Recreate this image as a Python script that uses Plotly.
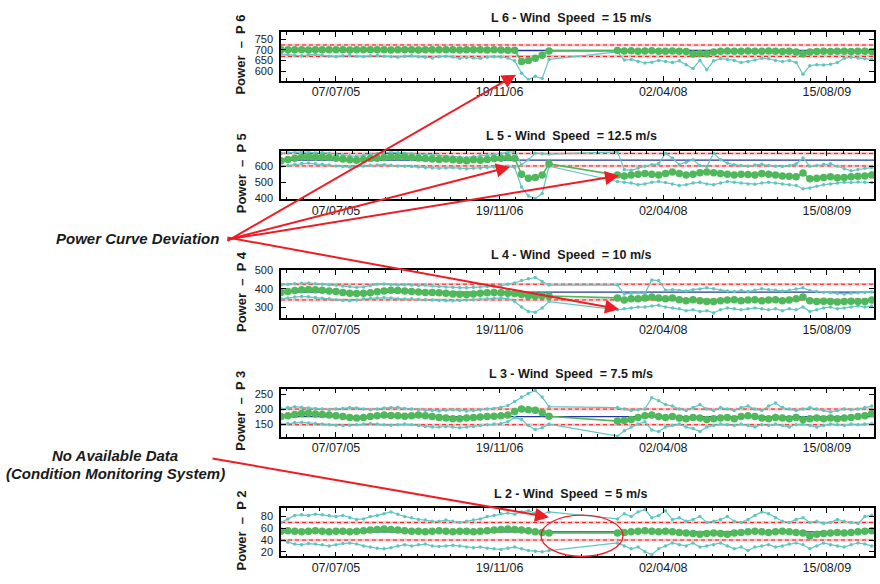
import plotly.graph_objects as go
import pandas as pd

# ---------------- data ----------------
dates_a = pd.date_range("2005-01-20", periods=40, freq="21D")
dates_b = pd.date_range("2007-11-14", periods=38, freq="21D")
dates = list(dates_a) + list(dates_b)

titles = ["L 6 - Wind\u00a0 Speed\u00a0 = 15 m/s", "L 5 - Wind\u00a0 Speed\u00a0 = 12.5 m/s",
          "L 4 - Wind\u00a0 Speed\u00a0 = 10 m/s", "L 3 - Wind\u00a0 Speed\u00a0 = 7.5 m/s",
          "L 2 - Wind\u00a0 Speed\u00a0 = 5 m/s"]
ylabels = ["P 6", "P 5", "P 4", "P 3", "P 2"]
x_ticks_major_days = 500
x_ticks_minor_days = 50

# reference (blue) and thresholds (red dashed)
ref_p6, thr_p6 = 697, [669, 723]
ref_p5, thr_p5 = 638, [602, 680]
ref_p4, thr_p4 = 382, [339, 425]
ref_p3, thr_p3 = 175, [148, 200]
ref_p2, thr_p2 = 54, [40, 70]

# P6
p6_mean = [700, 700, 701, 700, 699, 700, 700, 701, 700, 700, 699, 700, 700, 700, 701, 700, 699, 700, 700, 700,
           699, 700, 700, 701, 700, 700, 699, 700, 700, 700, 699, 700, 699, 698, 698, 645, 650, 660, 675, 695] + \
          [697, 695, 696, 694, 695, 696, 694, 693, 695, 694, 692, 680, 683, 682, 690, 694, 695, 693, 694,
           695, 694, 693, 695, 694, 692, 693, 690, 682, 690, 692, 693, 692, 694, 693, 692, 693, 694, 692]
p6_low = [680, 678, 675, 672, 676, 678, 674, 670, 668, 672, 675, 670, 668, 672, 674, 670, 668, 665, 670, 672,
          668, 665, 662, 668, 670, 666, 660, 664, 662, 660, 665, 668, 666, 662, 648, 590, 560, 575, 565, 655] + \
         [690, 652, 655, 645, 638, 642, 650, 645, 640, 648, 630, 612, 650, 606, 648, 658, 655, 650, 640,
          645, 652, 660, 658, 650, 645, 650, 640, 585, 625, 630, 628, 632, 640, 660, 665, 662, 658, 655]

# P5
p5_mean = [635, 642, 650, 658, 660, 656, 658, 655, 650, 645, 640, 638, 642, 648, 650, 655, 660, 658, 660, 655,
           652, 648, 645, 642, 645, 640, 638, 635, 640, 638, 642, 648, 650, 655, 650, 550, 525, 530, 545, 615] + \
          [545, 540, 545, 550, 555, 550, 545, 555, 565, 555, 545, 550, 560, 565, 560, 555, 550, 545, 550,
           548, 545, 555, 550, 545, 540, 538, 535, 558, 522, 525, 530, 535, 528, 530, 535, 538, 540, 545]
p5_up = [680, 684, 688, 690, 688, 684, 686, 682, 676, 670, 665, 662, 668, 675, 680, 684, 688, 685, 682, 678,
         675, 670, 668, 665, 662, 660, 658, 655, 660, 665, 668, 672, 678, 688, 692, 610, 640, 682, 678, 676] + \
        [690, 580, 575, 590, 600, 610, 615, 682, 650, 610, 625, 640, 605, 598, 682, 640, 620, 610, 605,
         600, 608, 612, 605, 600, 598, 604, 615, 652, 600, 605, 612, 615, 600, 585, 572, 580, 588, 592]
p5_low = [600, 605, 612, 618, 620, 615, 612, 608, 602, 598, 595, 598, 602, 606, 608, 610, 606, 602, 600, 598,
          595, 592, 590, 588, 590, 592, 588, 585, 588, 590, 592, 595, 598, 600, 592, 470, 415, 398, 430, 600] + \
         [505, 500, 495, 485, 490, 500, 505, 498, 490, 480, 485, 495, 500, 490, 485, 495, 505, 500, 495,
          490, 488, 495, 500, 495, 490, 485, 480, 460, 465, 475, 485, 490, 495, 500, 498, 502, 500, 498]

# P4
p4_mean = [380, 385, 390, 395, 396, 394, 392, 388, 385, 380, 376, 374, 375, 378, 383, 388, 392, 390, 388, 385,
           382, 380, 380, 378, 376, 372, 370, 368, 372, 375, 378, 380, 378, 376, 374, 368, 362, 360, 362, 360] + \
          [350, 338, 345, 345, 350, 355, 350, 345, 350, 340, 335, 340, 335, 330, 330, 335, 338, 340, 335,
           338, 340, 335, 338, 340, 335, 338, 345, 355, 335, 330, 332, 330, 328, 330, 332, 330, 330, 338]
p4_up = [420, 425, 428, 430, 432, 428, 425, 422, 420, 415, 412, 408, 410, 418, 424, 426, 422, 420, 422, 420,
         418, 420, 416, 412, 410, 408, 406, 405, 408, 410, 412, 414, 416, 425, 432, 445, 455, 462, 440, 420] + \
        [420, 372, 375, 378, 375, 448, 445, 392, 395, 390, 388, 395, 398, 405, 400, 392, 388, 385, 390,
         385, 392, 400, 395, 392, 388, 392, 398, 405, 390, 385, 380, 378, 375, 372, 375, 378, 380, 382]
p4_low = [345, 350, 355, 358, 356, 352, 348, 345, 340, 336, 334, 338, 345, 348, 350, 352, 350, 346, 344, 345,
          342, 340, 338, 336, 335, 334, 336, 338, 340, 344, 346, 348, 350, 345, 330, 300, 275, 272, 295, 330] + \
         [285, 290, 295, 300, 300, 305, 310, 300, 295, 290, 280, 285, 275, 280, 268, 285, 295, 290, 285,
          290, 295, 290, 285, 290, 280, 290, 285, 300, 275, 285, 295, 300, 290, 295, 300, 305, 300, 305]

# P3
p3_mean = [175, 178, 182, 185, 186, 184, 182, 180, 178, 175, 172, 170, 172, 175, 178, 180, 179, 178, 176, 178,
           180, 178, 175, 172, 170, 168, 168, 170, 172, 174, 175, 176, 178, 180, 192, 200, 198, 196, 188, 176] + \
          [160, 162, 165, 172, 178, 180, 175, 172, 175, 170, 168, 172, 170, 165, 168, 170, 172, 168, 175,
           178, 175, 170, 168, 172, 170, 168, 172, 165, 168, 170, 168, 170, 168, 170, 172, 175, 178, 185]
p3_up = [200, 205, 208, 206, 204, 202, 200, 198, 200, 202, 205, 204, 200, 198, 200, 204, 205, 206, 202, 200,
         198, 196, 195, 194, 196, 198, 196, 194, 195, 198, 200, 202, 206, 212, 225, 240, 252, 262, 240, 208] + \
        [205, 200, 195, 198, 200, 238, 228, 215, 210, 200, 195, 205, 215, 200, 195, 205, 200, 195, 205,
         210, 200, 195, 210, 220, 205, 200, 195, 200, 205, 200, 195, 190, 195, 200, 198, 200, 205, 210]
p3_low = [150, 152, 155, 156, 154, 152, 150, 148, 146, 145, 146, 148, 150, 152, 150, 148, 146, 148, 150, 148,
          145, 142, 140, 140, 142, 140, 138, 140, 142, 145, 148, 150, 152, 158, 172, 165, 145, 132, 138, 150] + \
         [110, 128, 140, 150, 158, 130, 125, 140, 145, 150, 140, 135, 125, 140, 145, 150, 148, 145, 150,
          145, 140, 148, 145, 150, 145, 140, 148, 150, 145, 140, 145, 150, 148, 145, 150, 148, 150, 152]

# P2
p2_mean = [55, 56, 55, 54, 55, 56, 55, 54, 55, 55, 54, 55, 56, 57, 58, 59, 58, 57, 56, 55,
           55, 54, 55, 56, 55, 54, 55, 55, 54, 55, 56, 57, 58, 59, 58, 57, 56, 54, 53, 52] + \
          [52, 53, 54, 55, 56, 55, 54, 55, 54, 53, 52, 51, 50, 51, 52, 51, 50, 52, 53,
           54, 55, 54, 53, 54, 55, 54, 53, 52, 47, 50, 51, 52, 53, 52, 53, 54, 55, 56]
p2_up = [70, 76, 82, 83, 82, 84, 83, 82, 80, 82, 78, 75, 76, 80, 82, 85, 88, 84, 80, 78,
         75, 74, 72, 72, 74, 72, 70, 72, 74, 76, 80, 82, 85, 86, 84, 88, 90, 86, 84, 88] + \
        [76, 85, 80, 88, 92, 78, 82, 90, 75, 78, 72, 75, 80, 70, 72, 75, 80, 72, 70,
         75, 82, 88, 85, 78, 72, 70, 75, 78, 70, 72, 68, 70, 75, 72, 70, 68, 80, 82]
p2_low = [40, 36, 33, 32, 34, 33, 32, 30, 32, 34, 35, 33, 30, 28, 26, 25, 27, 30, 32, 30,
          32, 33, 30, 29, 30, 31, 30, 28, 27, 28, 26, 25, 24, 26, 28, 25, 22, 21, 20, 22] + \
         [35, 30, 25, 28, 20, 15, 25, 30, 35, 32, 30, 35, 28, 30, 32, 35, 30, 25, 28,
          22, 28, 30, 32, 28, 30, 33, 35, 32, 25, 30, 35, 32, 30, 28, 32, 35, 33, 30]

y_ranges = [[555, 782], [394, 694], [240, 503], [108, 268], [12, 94]]
y_dticks = [50, 100, 100, 50, 20]

panels = [
    dict(mean=p6_mean, up=None, low=p6_low, ref=ref_p6, thr=thr_p6),
    dict(mean=p5_mean, up=p5_up, low=p5_low, ref=ref_p5, thr=thr_p5),
    dict(mean=p4_mean, up=p4_up, low=p4_low, ref=ref_p4, thr=thr_p4),
    dict(mean=p3_mean, up=p3_up, low=p3_low, ref=ref_p3, thr=thr_p3),
    dict(mean=p2_mean, up=p2_up, low=p2_low, ref=ref_p2, thr=thr_p2),
]

# ---------------- layout geometry (pixels) ----------------
W, H = 880, 584
X0, X1 = 281, 874
TOPS = [27, 148, 269, 390, 512]
PH = 49
FONT = "Liberation Sans, Arial, Helvetica, sans-serif"

GREEN = "#4fb85a"
CYAN = "#62c6c0"
BLUE = "#23389a"
RED = "#ee1c24"


def py(p):
    return 1 - p / H


fig = go.Figure()
layout = {}
shapes = []
annotations = []
DAY = 86400000

for i, pn in enumerate(panels):
    n = i + 1
    sfx = "" if n == 1 else str(n)
    xa, ya = "x" + sfx, "y" + sfx
    top = TOPS[i]
    for key in ("low", "up"):
        if pn[key] is not None:
            fig.add_trace(go.Scatter(x=dates, y=pn[key], xaxis=xa, yaxis=ya, mode="lines+markers",
                                     line=dict(color=CYAN, width=1.2),
                                     marker=dict(color=CYAN, size=3.5),
                                     showlegend=False, hoverinfo="skip"))
    fig.add_trace(go.Scatter(x=dates, y=pn["mean"], xaxis=xa, yaxis=ya, mode="lines+markers",
                             line=dict(color=GREEN, width=1.6),
                             marker=dict(color=GREEN, size=7.5),
                             showlegend=False, hoverinfo="skip"))
    # reference and thresholds
    shapes.append(dict(type="line", xref=xa + " domain", yref=ya, x0=0, x1=1, y0=pn["ref"], y1=pn["ref"],
                       line=dict(color=BLUE, width=1.3), layer="below"))
    for t in pn["thr"]:
        shapes.append(dict(type="line", xref=xa + " domain", yref=ya, x0=0, x1=1, y0=t, y1=t,
                           line=dict(color="rgba(240,120,120,0.45)", width=2.6), layer="below"))
        shapes.append(dict(type="line", xref=xa + " domain", yref=ya, x0=0, x1=1, y0=t, y1=t,
                           line=dict(color=RED, width=1, dash="4px,3px"), layer="below"))

    layout["xaxis" + sfx] = dict(
        domain=[X0 / W, X1 / W], anchor=ya, type="date",
        range=["2005-01-20", "2010-01-06"], tick0="2005-07-07", dtick=x_ticks_major_days * DAY,
        tickformat="%d/%m/%y", ticks="inside", ticklen=5, tickwidth=1, tickcolor="black",
        showline=True, linecolor="black", linewidth=1.5, mirror="ticks", showgrid=False, zeroline=False,
        tickfont=dict(family=FONT, size=12.5, color="#1a1a1a"), ticklabelstandoff=-1,
        minor=dict(tick0="2005-07-07", dtick=x_ticks_minor_days * DAY, ticks="inside", ticklen=3,
                   tickcolor="black", showgrid=False),
    )
    layout["yaxis" + sfx] = dict(
        domain=[py(top + PH), py(top)], anchor=xa, range=y_ranges[i], tick0=0, dtick=y_dticks[i],
        ticks="inside", ticklen=5, tickwidth=1, tickcolor="black",
        showline=True, linecolor="black", linewidth=1.5, mirror="ticks", showgrid=False, zeroline=False,
        tickfont=dict(family=FONT, size=11, color="#1a1a1a"), ticklabelstandoff=4,
    )
    annotations.append(dict(text="<b>" + titles[i] + "</b>", x=571 / W, y=py(top - 15), xref="paper",
                            yref="paper", showarrow=False, xanchor="center", yanchor="middle",
                            font=dict(family=FONT, size=12.5, color="#1a1a1a")))
    annotations.append(dict(text="<b>Power\u00a0 \u2013\u00a0 " + ylabels[i] + "</b>", x=241 / W,
                            y=py(top + PH / 2 - 2), xref="paper", yref="paper", showarrow=False,
                            textangle=-90, xanchor="center", yanchor="middle",
                            font=dict(family=FONT, size=13, color="#1a1a1a")))

# side labels
annotations.append(dict(text="<b><i>Power Curve Deviation</i></b>", x=137 / W, y=py(237), xref="paper",
                        yref="paper", showarrow=False, xanchor="center", yanchor="middle",
                        font=dict(family=FONT, size=15, color="#1a1a1a")))
annotations.append(dict(text="<b><i>No Available Data</i></b>", x=115 / W, y=py(458), xref="paper",
                        yref="paper", showarrow=False, xanchor="center", yanchor="middle",
                        font=dict(family=FONT, size=15, color="#1a1a1a")))
annotations.append(dict(text="<b><i>(Condition Monitoring System)</i></b>", x=116 / W, y=py(476),
                        xref="paper", yref="paper", showarrow=False, xanchor="center", yanchor="middle",
                        font=dict(family=FONT, size=15, color="#1a1a1a")))

# arrows (tail -> tip) in pixels
arrows = [((226, 237), (516, 70)), ((226, 237), (510, 164)), ((226, 237), (619, 173)),
          ((226, 237), (619, 309)), ((211, 462), (549, 521))]
for (sx, sy), (tx, ty) in arrows:
    annotations.append(dict(text="", x=tx / W, y=py(ty), xref="paper", yref="paper", ax=sx - tx, ay=sy - ty,
                            axref="pixel", ayref="pixel", showarrow=True, arrowhead=2, arrowsize=1.4,
                            arrowwidth=2, arrowcolor=RED, standoff=0, startstandoff=0))

shapes.append(dict(type="circle", xref="paper", yref="paper", x0=541 / W, x1=623 / W, y0=py(561), y1=py(519),
                   line=dict(color=RED, width=1.3), layer="above"))

layout.update(dict(width=W, height=H, margin=dict(l=0, r=0, t=0, b=0), paper_bgcolor="white",
                   plot_bgcolor="white", shapes=shapes, annotations=annotations, showlegend=False))
fig.update_layout(**layout)
fig.write_html("out.html")
